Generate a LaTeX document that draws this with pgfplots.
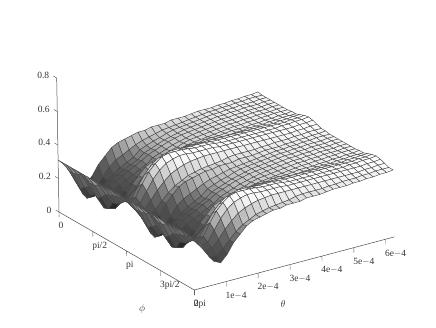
\documentclass[border=0pt]{standalone}
\usepackage{pgfplots}
\pgfplotsset{compat=1.18}
\usepackage{fontspec}
\setmainfont{Liberation Serif}
\begin{document}
\begin{tikzpicture}[x=1pt,y=1pt]
\useasboundingbox (0,0) rectangle (436,327);
\begin{axis}[
  at={(59pt,115pt)},anchor=origin,
  x={(4.228pt,-2.4375pt)},y={(6.667pt,1.77pt)},z={(-2.9pt,167.5pt)},
  xmin=0,xmax=32,ymin=0,ymax=30,zmin=0,zmax=0.8,
  clip=false,
  axis x line*=left, axis y line*=left, axis z line*=left,
  axis line style={-,black!70,line width=.5pt},
  major tick length=0pt,
  xtick={0,8,16,24,32},xticklabels={0,pi/2,pi,3pi/2,2pi},
  ytick={0,4.785,9.57,14.355,19.14,23.925,28.71},yticklabels={0,1e$-$4,2e$-$4,3e$-$4,4e$-$4,5e$-$4,6e$-$4},
  ztick={0,0.2,0.4,0.6,0.8},zticklabels={0,0.2,0.4,0.6,0.8},
  tick label style={font=\fontsize{9.5}{10}\selectfont,text=black!80},
  xticklabel style={anchor=north west,xshift=-4pt,yshift=-7pt},
  yticklabel style={anchor=north west,xshift=-4pt,yshift=-7pt},
  zticklabel style={xshift=-4pt,yshift=1pt},
  colormap={g}{gray(8cm)=(.03); gray(12cm)=(.22); gray(16cm)=(.30); gray(20cm)=(.33); gray(25cm)=(.45); gray(28cm)=(.55); gray(31cm)=(.70); gray(36cm)=(.84); gray(38cm)=(.91); gray(40cm)=(.97); gray(42cm)=(1)},
  point meta min=0.08,point meta max=0.42,
]
\addplot3[surf,shader=flat mean,mesh/rows=33,mesh/cols=31,draw=black!72,line width=.42pt]
 table[x index=0,y index=1,z index=2]{
0 30 .40
0 29 .395
0 28 .395
0 27 .39
0 26 .39
0 25 .385
0 24 .385
0 23 .38
0 22 .38
0 21 .38
0 20 .375
0 19 .37
0 18 .37
0 17 .37
0 16 .36
0 15 .36
0 14 .36
0 13 .35
0 12 .35
0 11 .34
0 10 .33
0 9 .32
0 8 .30
0 7 .26
0 6 .22
0 5 .16
0 4 .12
0 3 .14
0 2 .20
0 1 .27
0 0 .31
1 30 .395
1 29 .395
1 28 .395
1 27 .39
1 26 .39
1 25 .385
1 24 .385
1 23 .38
1 22 .38
1 21 .375
1 20 .37
1 19 .365
1 18 .36
1 17 .355
1 16 .35
1 15 .345
1 14 .335
1 13 .325
1 12 .315
1 11 .30
1 10 .28
1 9 .26
1 8 .24
1 7 .21
1 6 .16
1 5 .11
1 4 .08
1 3 .09
1 2 .17
1 1 .25
1 0 .31
2 30 .395
2 29 .395
2 28 .39
2 27 .39
2 26 .39
2 25 .385
2 24 .385
2 23 .38
2 22 .38
2 21 .375
2 20 .37
2 19 .365
2 18 .36
2 17 .355
2 16 .35
2 15 .34
2 14 .325
2 13 .315
2 12 .30
2 11 .285
2 10 .25
2 9 .23
2 8 .21
2 7 .18
2 6 .15
2 5 .12
2 4 .08
2 3 .08
2 2 .15
2 1 .25
2 0 .31
3 30 .395
3 29 .395
3 28 .39
3 27 .39
3 26 .39
3 25 .385
3 24 .385
3 23 .38
3 22 .38
3 21 .375
3 20 .37
3 19 .365
3 18 .36
3 17 .355
3 16 .345
3 15 .335
3 14 .325
3 13 .31
3 12 .295
3 11 .28
3 10 .25
3 9 .23
3 8 .21
3 7 .19
3 6 .17
3 5 .15
3 4 .12
3 3 .11
3 2 .17
3 1 .26
3 0 .31
4 30 .395
4 29 .395
4 28 .39
4 27 .39
4 26 .39
4 25 .385
4 24 .385
4 23 .38
4 22 .38
4 21 .375
4 20 .37
4 19 .365
4 18 .36
4 17 .355
4 16 .35
4 15 .34
4 14 .33
4 13 .315
4 12 .30
4 11 .285
4 10 .26
4 9 .24
4 8 .22
4 7 .20
4 6 .18
4 5 .17
4 4 .15
4 3 .14
4 2 .19
4 1 .27
4 0 .31
5 30 .395
5 29 .395
5 28 .39
5 27 .39
5 26 .39
5 25 .385
5 24 .385
5 23 .38
5 22 .38
5 21 .375
5 20 .37
5 19 .365
5 18 .36
5 17 .355
5 16 .345
5 15 .335
5 14 .325
5 13 .31
5 12 .295
5 11 .28
5 10 .25
5 9 .23
5 8 .21
5 7 .19
5 6 .17
5 5 .15
5 4 .12
5 3 .11
5 2 .17
5 1 .26
5 0 .31
6 30 .395
6 29 .395
6 28 .39
6 27 .39
6 26 .39
6 25 .385
6 24 .385
6 23 .38
6 22 .38
6 21 .375
6 20 .37
6 19 .365
6 18 .36
6 17 .355
6 16 .35
6 15 .34
6 14 .325
6 13 .315
6 12 .30
6 11 .285
6 10 .25
6 9 .23
6 8 .21
6 7 .18
6 6 .15
6 5 .12
6 4 .08
6 3 .08
6 2 .15
6 1 .25
6 0 .31
7 30 .395
7 29 .395
7 28 .395
7 27 .39
7 26 .39
7 25 .385
7 24 .385
7 23 .38
7 22 .38
7 21 .375
7 20 .37
7 19 .365
7 18 .36
7 17 .355
7 16 .35
7 15 .345
7 14 .335
7 13 .325
7 12 .315
7 11 .30
7 10 .28
7 9 .26
7 8 .24
7 7 .21
7 6 .16
7 5 .11
7 4 .08
7 3 .09
7 2 .17
7 1 .25
7 0 .31
8 30 .40
8 29 .395
8 28 .395
8 27 .39
8 26 .39
8 25 .385
8 24 .385
8 23 .38
8 22 .38
8 21 .38
8 20 .375
8 19 .37
8 18 .37
8 17 .37
8 16 .36
8 15 .36
8 14 .36
8 13 .35
8 12 .35
8 11 .34
8 10 .33
8 9 .32
8 8 .30
8 7 .26
8 6 .22
8 5 .16
8 4 .12
8 3 .14
8 2 .20
8 1 .27
8 0 .31
9 30 .40
9 29 .40
9 28 .40
9 27 .395
9 26 .395
9 25 .39
9 24 .39
9 23 .39
9 22 .385
9 21 .385
9 20 .38
9 19 .38
9 18 .38
9 17 .38
9 16 .375
9 15 .365
9 14 .36
9 13 .355
9 12 .35
9 11 .34
9 10 .33
9 9 .31
9 8 .29
9 7 .26
9 6 .22
9 5 .18
9 4 .15
9 3 .15
9 2 .21
9 1 .27
9 0 .31
10 30 .41
10 29 .41
10 28 .405
10 27 .405
10 26 .40
10 25 .40
10 24 .40
10 23 .40
10 22 .40
10 21 .40
10 20 .40
10 19 .40
10 18 .40
10 17 .40
10 16 .40
10 15 .40
10 14 .40
10 13 .40
10 12 .395
10 11 .39
10 10 .38
10 9 .365
10 8 .345
10 7 .31
10 6 .27
10 5 .22
10 4 .18
10 3 .17
10 2 .22
10 1 .27
10 0 .31
11 30 .42
11 29 .415
11 28 .415
11 27 .41
11 26 .41
11 25 .41
11 24 .41
11 23 .41
11 22 .41
11 21 .41
11 20 .41
11 19 .41
11 18 .41
11 17 .41
11 16 .41
11 15 .415
11 14 .415
11 13 .415
11 12 .415
11 11 .42
11 10 .42
11 9 .41
11 8 .395
11 7 .365
11 6 .32
11 5 .26
11 4 .20
11 3 .19
11 2 .23
11 1 .28
11 0 .31
12 30 .425
12 29 .42
12 28 .42
12 27 .415
12 26 .415
12 25 .41
12 24 .41
12 23 .41
12 22 .41
12 21 .41
12 20 .41
12 19 .41
12 18 .41
12 17 .41
12 16 .415
12 15 .42
12 14 .42
12 13 .42
12 12 .425
12 11 .43
12 10 .43
12 9 .43
12 8 .42
12 7 .39
12 6 .35
12 5 .29
12 4 .22
12 3 .20
12 2 .24
12 1 .28
12 0 .31
13 30 .42
13 29 .415
13 28 .415
13 27 .41
13 26 .41
13 25 .41
13 24 .41
13 23 .41
13 22 .41
13 21 .41
13 20 .41
13 19 .41
13 18 .41
13 17 .41
13 16 .41
13 15 .415
13 14 .415
13 13 .415
13 12 .415
13 11 .42
13 10 .42
13 9 .41
13 8 .395
13 7 .365
13 6 .32
13 5 .26
13 4 .20
13 3 .19
13 2 .23
13 1 .28
13 0 .31
14 30 .41
14 29 .41
14 28 .405
14 27 .405
14 26 .40
14 25 .40
14 24 .40
14 23 .40
14 22 .40
14 21 .40
14 20 .40
14 19 .40
14 18 .40
14 17 .40
14 16 .40
14 15 .40
14 14 .40
14 13 .40
14 12 .395
14 11 .39
14 10 .38
14 9 .365
14 8 .345
14 7 .31
14 6 .27
14 5 .22
14 4 .18
14 3 .17
14 2 .22
14 1 .27
14 0 .31
15 30 .40
15 29 .40
15 28 .40
15 27 .395
15 26 .395
15 25 .39
15 24 .39
15 23 .39
15 22 .385
15 21 .385
15 20 .38
15 19 .38
15 18 .38
15 17 .38
15 16 .375
15 15 .365
15 14 .36
15 13 .355
15 12 .35
15 11 .34
15 10 .33
15 9 .31
15 8 .29
15 7 .26
15 6 .22
15 5 .18
15 4 .15
15 3 .15
15 2 .21
15 1 .27
15 0 .31
16 30 .40
16 29 .395
16 28 .395
16 27 .39
16 26 .39
16 25 .385
16 24 .385
16 23 .38
16 22 .38
16 21 .38
16 20 .375
16 19 .37
16 18 .37
16 17 .37
16 16 .36
16 15 .36
16 14 .36
16 13 .35
16 12 .35
16 11 .34
16 10 .33
16 9 .32
16 8 .30
16 7 .26
16 6 .22
16 5 .16
16 4 .12
16 3 .14
16 2 .20
16 1 .27
16 0 .31
17 30 .395
17 29 .395
17 28 .395
17 27 .39
17 26 .39
17 25 .385
17 24 .385
17 23 .38
17 22 .38
17 21 .375
17 20 .37
17 19 .365
17 18 .36
17 17 .355
17 16 .35
17 15 .345
17 14 .335
17 13 .325
17 12 .315
17 11 .30
17 10 .28
17 9 .26
17 8 .24
17 7 .21
17 6 .16
17 5 .11
17 4 .08
17 3 .09
17 2 .17
17 1 .25
17 0 .31
18 30 .395
18 29 .395
18 28 .39
18 27 .39
18 26 .39
18 25 .385
18 24 .385
18 23 .38
18 22 .38
18 21 .375
18 20 .37
18 19 .365
18 18 .36
18 17 .355
18 16 .35
18 15 .34
18 14 .325
18 13 .315
18 12 .30
18 11 .285
18 10 .25
18 9 .23
18 8 .21
18 7 .18
18 6 .15
18 5 .12
18 4 .08
18 3 .08
18 2 .15
18 1 .25
18 0 .31
19 30 .395
19 29 .395
19 28 .39
19 27 .39
19 26 .39
19 25 .385
19 24 .385
19 23 .38
19 22 .38
19 21 .375
19 20 .37
19 19 .365
19 18 .36
19 17 .355
19 16 .345
19 15 .335
19 14 .325
19 13 .31
19 12 .295
19 11 .28
19 10 .25
19 9 .23
19 8 .21
19 7 .19
19 6 .17
19 5 .15
19 4 .12
19 3 .11
19 2 .17
19 1 .26
19 0 .31
20 30 .395
20 29 .395
20 28 .39
20 27 .39
20 26 .39
20 25 .385
20 24 .385
20 23 .38
20 22 .38
20 21 .375
20 20 .37
20 19 .365
20 18 .36
20 17 .355
20 16 .35
20 15 .34
20 14 .33
20 13 .315
20 12 .30
20 11 .285
20 10 .26
20 9 .24
20 8 .22
20 7 .20
20 6 .18
20 5 .17
20 4 .15
20 3 .14
20 2 .19
20 1 .27
20 0 .31
21 30 .395
21 29 .395
21 28 .39
21 27 .39
21 26 .39
21 25 .385
21 24 .385
21 23 .38
21 22 .38
21 21 .375
21 20 .37
21 19 .365
21 18 .36
21 17 .355
21 16 .345
21 15 .335
21 14 .325
21 13 .31
21 12 .295
21 11 .28
21 10 .25
21 9 .23
21 8 .21
21 7 .19
21 6 .17
21 5 .15
21 4 .12
21 3 .11
21 2 .17
21 1 .26
21 0 .31
22 30 .395
22 29 .395
22 28 .39
22 27 .39
22 26 .39
22 25 .385
22 24 .385
22 23 .38
22 22 .38
22 21 .375
22 20 .37
22 19 .365
22 18 .36
22 17 .355
22 16 .35
22 15 .34
22 14 .325
22 13 .315
22 12 .30
22 11 .285
22 10 .25
22 9 .23
22 8 .21
22 7 .18
22 6 .15
22 5 .12
22 4 .08
22 3 .08
22 2 .15
22 1 .25
22 0 .31
23 30 .395
23 29 .395
23 28 .395
23 27 .39
23 26 .39
23 25 .385
23 24 .385
23 23 .38
23 22 .38
23 21 .375
23 20 .37
23 19 .365
23 18 .36
23 17 .355
23 16 .35
23 15 .345
23 14 .335
23 13 .325
23 12 .315
23 11 .30
23 10 .28
23 9 .26
23 8 .24
23 7 .21
23 6 .16
23 5 .11
23 4 .08
23 3 .09
23 2 .17
23 1 .25
23 0 .31
24 30 .40
24 29 .395
24 28 .395
24 27 .39
24 26 .39
24 25 .385
24 24 .385
24 23 .38
24 22 .38
24 21 .38
24 20 .375
24 19 .37
24 18 .37
24 17 .37
24 16 .36
24 15 .36
24 14 .36
24 13 .35
24 12 .35
24 11 .34
24 10 .33
24 9 .32
24 8 .30
24 7 .26
24 6 .22
24 5 .16
24 4 .12
24 3 .14
24 2 .20
24 1 .27
24 0 .31
25 30 .40
25 29 .40
25 28 .40
25 27 .395
25 26 .395
25 25 .39
25 24 .39
25 23 .39
25 22 .385
25 21 .385
25 20 .38
25 19 .38
25 18 .38
25 17 .38
25 16 .375
25 15 .365
25 14 .36
25 13 .355
25 12 .35
25 11 .34
25 10 .33
25 9 .31
25 8 .29
25 7 .26
25 6 .22
25 5 .18
25 4 .15
25 3 .15
25 2 .21
25 1 .27
25 0 .31
26 30 .41
26 29 .41
26 28 .405
26 27 .405
26 26 .40
26 25 .40
26 24 .40
26 23 .40
26 22 .40
26 21 .40
26 20 .40
26 19 .40
26 18 .40
26 17 .40
26 16 .40
26 15 .40
26 14 .40
26 13 .40
26 12 .395
26 11 .39
26 10 .38
26 9 .365
26 8 .345
26 7 .31
26 6 .27
26 5 .22
26 4 .18
26 3 .17
26 2 .22
26 1 .27
26 0 .31
27 30 .42
27 29 .415
27 28 .415
27 27 .41
27 26 .41
27 25 .41
27 24 .41
27 23 .41
27 22 .41
27 21 .41
27 20 .41
27 19 .41
27 18 .41
27 17 .41
27 16 .41
27 15 .415
27 14 .415
27 13 .415
27 12 .415
27 11 .42
27 10 .42
27 9 .41
27 8 .395
27 7 .365
27 6 .32
27 5 .26
27 4 .20
27 3 .19
27 2 .23
27 1 .28
27 0 .31
28 30 .425
28 29 .42
28 28 .42
28 27 .415
28 26 .415
28 25 .41
28 24 .41
28 23 .41
28 22 .41
28 21 .41
28 20 .41
28 19 .41
28 18 .41
28 17 .41
28 16 .415
28 15 .42
28 14 .42
28 13 .42
28 12 .425
28 11 .43
28 10 .43
28 9 .43
28 8 .42
28 7 .39
28 6 .35
28 5 .29
28 4 .22
28 3 .20
28 2 .24
28 1 .28
28 0 .31
29 30 .42
29 29 .415
29 28 .415
29 27 .41
29 26 .41
29 25 .41
29 24 .41
29 23 .41
29 22 .41
29 21 .41
29 20 .41
29 19 .41
29 18 .41
29 17 .41
29 16 .41
29 15 .415
29 14 .415
29 13 .415
29 12 .415
29 11 .42
29 10 .42
29 9 .41
29 8 .395
29 7 .365
29 6 .32
29 5 .26
29 4 .20
29 3 .19
29 2 .23
29 1 .28
29 0 .31
30 30 .41
30 29 .41
30 28 .405
30 27 .405
30 26 .40
30 25 .40
30 24 .40
30 23 .40
30 22 .40
30 21 .40
30 20 .40
30 19 .40
30 18 .40
30 17 .40
30 16 .40
30 15 .40
30 14 .40
30 13 .40
30 12 .395
30 11 .39
30 10 .38
30 9 .365
30 8 .345
30 7 .31
30 6 .27
30 5 .22
30 4 .18
30 3 .17
30 2 .22
30 1 .27
30 0 .31
31 30 .40
31 29 .40
31 28 .40
31 27 .395
31 26 .395
31 25 .39
31 24 .39
31 23 .39
31 22 .385
31 21 .385
31 20 .38
31 19 .38
31 18 .38
31 17 .38
31 16 .375
31 15 .365
31 14 .36
31 13 .355
31 12 .35
31 11 .34
31 10 .33
31 9 .31
31 8 .29
31 7 .26
31 6 .22
31 5 .18
31 4 .15
31 3 .15
31 2 .21
31 1 .27
31 0 .31
32 30 .40
32 29 .395
32 28 .395
32 27 .39
32 26 .39
32 25 .385
32 24 .385
32 23 .38
32 22 .38
32 21 .38
32 20 .375
32 19 .37
32 18 .37
32 17 .37
32 16 .36
32 15 .36
32 14 .36
32 13 .35
32 12 .35
32 11 .34
32 10 .33
32 9 .32
32 8 .30
32 7 .26
32 6 .22
32 5 .16
32 4 .12
32 3 .14
32 2 .20
32 1 .27
32 0 .31
};
\foreach \v in {0,8,16,24,32}{\edef\tmp{\noexpand\draw[black!70,line width=.4pt] (axis cs:\v,0,0) -- (axis cs:\v,0,-0.03);}\tmp}
\foreach \v in {0,4.785,9.57,14.355,19.14,23.925,28.71}{\edef\tmp{\noexpand\draw[black!70,line width=.4pt] (axis cs:32,\v,0) -- (axis cs:32,\v,-0.03);}\tmp}
\foreach \v in {0,0.2,0.4,0.6,0.8}{\edef\tmp{\noexpand\draw[black!70,line width=.4pt] (axis cs:0,0,\v) -- ++(-3.3pt,2pt);}\tmp}
\end{axis}
\node[text=black!80] at (142,18) {\fontsize{10}{11}\selectfont$\phi$};
\node[text=black!80] at (283,23) {\fontsize{10}{11}\selectfont$\theta$};
\end{tikzpicture}
\end{document}
